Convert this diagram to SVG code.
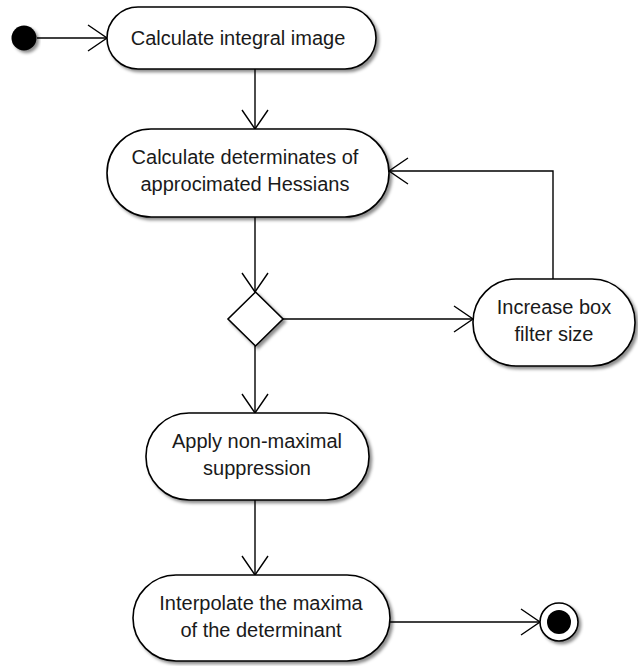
<svg xmlns="http://www.w3.org/2000/svg" width="638" height="666" viewBox="0 0 638 666">
  <style>
    .node { fill: #fff; stroke: #000; stroke-width: 1.6; filter: url(#shadow); }
    .label { font-family: "Liberation Sans", Arial, sans-serif; font-size: 20px; fill: #1a1a1a; text-anchor: middle; }
    .edge { fill: none; stroke: #000; stroke-width: 1.4; marker-end: url(#open); }
  </style>
  <defs>
    <filter id="shadow" x="-10%" y="-10%" width="125%" height="130%">
      <feDropShadow dx="2.5" dy="2.5" stdDeviation="1.5" flood-color="#000" flood-opacity="0.45"/>
    </filter>
    <marker id="open" markerUnits="userSpaceOnUse" markerWidth="24" markerHeight="30" refX="20" refY="14" orient="auto">
      <path d="M1,1 L20,14 L1,27" fill="none" stroke="#000" stroke-width="1.4"/>
    </marker>
  </defs>

  <g id="connectors">
    <path class="edge" d="M37,38 H107"/>
    <path class="edge" d="M255,69 V129"/>
    <path class="edge" d="M255,217 V292"/>
    <path class="edge" d="M283,319 H473"/>
    <path class="edge" d="M553,279 V171 H389"/>
    <path class="edge" d="M255,346 V413"/>
    <path class="edge" d="M255,500 V575"/>
    <path class="edge" d="M390,622 H540"/>
  </g>

  <g id="start">
    <circle cx="24" cy="38" r="12.5" fill="#000" filter="url(#shadow)"/>
  </g>

  <g id="calc-integral">
    <rect class="node" x="107" y="7" width="269" height="62" rx="31" ry="31"/>
    <text class="label" x="238" y="45">Calculate integral image</text>
  </g>

  <g id="calc-hessians">
    <rect class="node" x="107" y="129" width="282" height="88" rx="44" ry="44"/>
    <text class="label" x="245" y="164">Calculate determinates of</text>
    <text class="label" x="245" y="191">approcimated Hessians</text>
  </g>

  <g id="decision">
    <path class="node" d="M255.5,292 L283,319 L255.5,346 L228,319 Z"/>
  </g>

  <g id="increase-filter">
    <rect class="node" x="473" y="279" width="162" height="87" rx="43" ry="43"/>
    <text class="label" x="554" y="314">Increase box</text>
    <text class="label" x="554" y="341">filter size</text>
  </g>

  <g id="non-max">
    <rect class="node" x="146" y="413" width="223" height="87" rx="43" ry="43"/>
    <text class="label" x="257" y="448">Apply non-maximal</text>
    <text class="label" x="257" y="475">suppression</text>
  </g>

  <g id="interpolate">
    <rect class="node" x="133" y="575" width="257" height="86" rx="43" ry="43"/>
    <text class="label" x="261" y="610">Interpolate the maxima</text>
    <text class="label" x="261" y="637">of the determinant</text>
  </g>

  <g id="end">
    <circle cx="559" cy="622" r="19" fill="#fff" stroke="#000" stroke-width="1.6" filter="url(#shadow)"/>
    <circle cx="559" cy="622" r="12" fill="#000"/>
  </g>
</svg>
